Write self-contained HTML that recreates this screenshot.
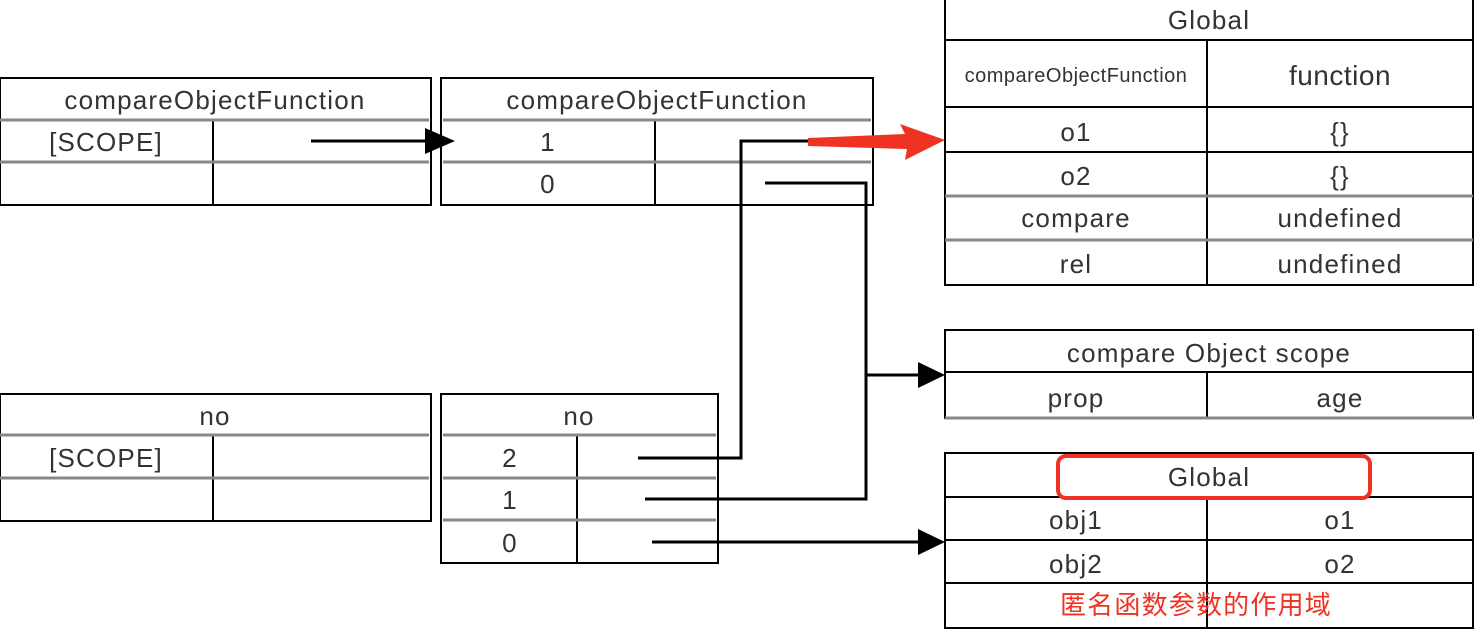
<!DOCTYPE html>
<html><head><meta charset="utf-8"><style>
html,body{margin:0;padding:0;background:#fff;width:1476px;height:630px;overflow:hidden}
text{font-family:"Liberation Sans","Noto Sans CJK SC",sans-serif;fill:#333;text-anchor:middle}
</style></head><body>
<svg width="1476" height="630" viewBox="0 0 1476 630" xmlns="http://www.w3.org/2000/svg">
<g stroke="#000" stroke-width="2" fill="none">
<rect x="0" y="78" width="431" height="127"/>
<line x1="213" y1="120" x2="213" y2="205"/>
<rect x="441" y="78" width="432" height="127"/>
<line x1="655" y1="120" x2="655" y2="205"/>
<rect x="0" y="394" width="431" height="127"/>
<line x1="213" y1="435" x2="213" y2="521"/>
<rect x="441" y="394" width="277" height="169"/>
<line x1="577" y1="435" x2="577" y2="563"/>
<polyline points="945,0 945,285 1473,285 1473,0"/>
<line x1="945" y1="40" x2="1473" y2="40"/>
<line x1="945" y1="107" x2="1473" y2="107"/>
<line x1="945" y1="152" x2="1473" y2="152"/>
<line x1="1207" y1="40" x2="1207" y2="285"/>
<rect x="945" y="330" width="528" height="88"/>
<line x1="945" y1="372" x2="1473" y2="372"/>
<line x1="1207" y1="372" x2="1207" y2="418"/>
<rect x="945" y="453" width="528" height="175"/>
<line x1="945" y1="497" x2="1473" y2="497"/>
<line x1="945" y1="540" x2="1473" y2="540"/>
<line x1="945" y1="583" x2="1473" y2="583"/>
<line x1="1207" y1="497" x2="1207" y2="628"/>
</g>
<g stroke="#888" stroke-width="3">
<line x1="0" y1="120" x2="429" y2="120"/><line x1="0" y1="162" x2="429" y2="162"/>
<line x1="443" y1="120" x2="871" y2="120"/><line x1="443" y1="162" x2="871" y2="162"/>
<line x1="0" y1="435" x2="429" y2="435"/><line x1="0" y1="478" x2="429" y2="478"/>
<line x1="443" y1="435" x2="716" y2="435"/><line x1="443" y1="478" x2="716" y2="478"/><line x1="443" y1="520" x2="716" y2="520"/>
<line x1="945" y1="196" x2="1473" y2="196"/><line x1="945" y1="240" x2="1473" y2="240"/>
<line x1="945" y1="418" x2="1473" y2="418"/>
</g>
<g stroke="#000" stroke-width="3" fill="none">
<line x1="311" y1="141" x2="428" y2="141"/>
<polyline points="638,458 741,458 741,141 808,141"/>
<polyline points="645,499 866,499 866,183 765,183"/>
<line x1="866" y1="375" x2="918" y2="375"/>
<line x1="652" y1="542" x2="918" y2="542"/>
</g>
<g fill="#000">
<polygon points="425,128 455,141 425,154"/>
<polygon points="918,362 945,375 918,388"/>
<polygon points="918,529 945,542 918,555"/>
</g>
<polygon points="808,138 905,134 900,124 945,140 905,160 907,149 808,146" fill="#ee3322"/>
<rect x="1058" y="456" width="312" height="42" rx="8" ry="8" fill="none" stroke="#ee3322" stroke-width="4"/>
<g font-size="26" letter-spacing="1.2">
<text x="215" y="109">compareObjectFunction</text>
<text x="106" y="151">[SCOPE]</text>
<text x="657" y="109">compareObjectFunction</text>
<text x="548" y="151">1</text>
<text x="548" y="193">0</text>
<text x="215" y="425">no</text>
<text x="106" y="467">[SCOPE]</text>
<text x="579" y="425">no</text>
<text x="510" y="467">2</text>
<text x="510" y="509">1</text>
<text x="510" y="552">0</text>
<text x="1209" y="29">Global</text>
<text x="1076" y="82" font-size="20" letter-spacing="0.5">compareObjectFunction</text>
<text x="1340" y="85" font-size="28" letter-spacing="0.5">function</text>
<text x="1076" y="141">o1</text>
<text x="1340" y="141">{}</text>
<text x="1076" y="185">o2</text>
<text x="1340" y="185">{}</text>
<text x="1076" y="227">compare</text>
<text x="1340" y="227">undefined</text>
<text x="1076" y="273">rel</text>
<text x="1340" y="273">undefined</text>
<text x="1209" y="362">compare Object scope</text>
<text x="1076" y="407">prop</text>
<text x="1340" y="407">age</text>
<text x="1209" y="486">Global</text>
<text x="1076" y="529">obj1</text>
<text x="1340" y="529">o1</text>
<text x="1076" y="573">obj2</text>
<text x="1340" y="573">o2</text>
<text x="1196" y="614" style="fill:#ee3322">匿名函数参数的作用域</text>
</g>
</svg>
</body></html>
